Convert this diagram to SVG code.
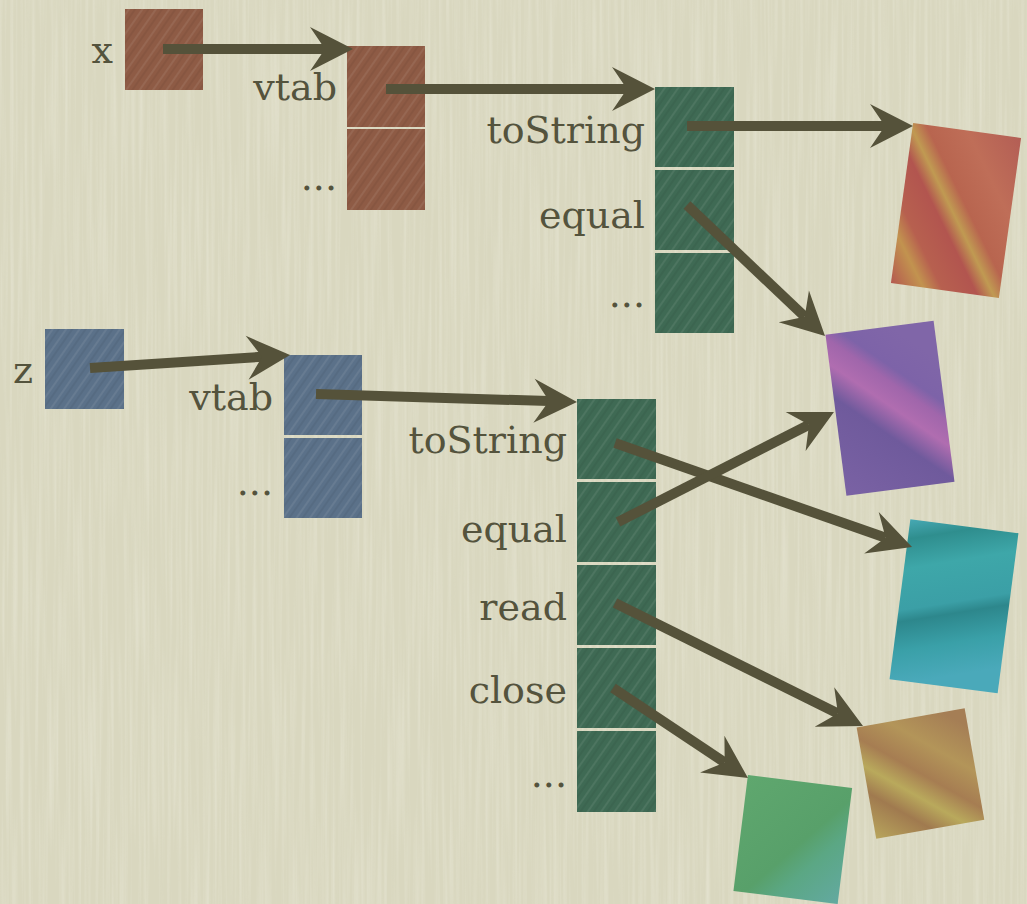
<svg xmlns="http://www.w3.org/2000/svg" width="1027" height="904" viewBox="0 0 1027 904">
  <defs>
    <style>
      .lbl { font-family: "DejaVu Serif", "Liberation Serif", serif; font-size: 38px; fill: #54533d; text-anchor: end; }
      .edge { stroke: #55523a; stroke-width: 10; fill: none; marker-end: url(#head); }
      .brown { fill: #8e5b45; }
      .green { fill: #3f6a54; }
      .blue { fill: #5b7189; }
      .streak { fill: url(#streaks); }
    </style>
    <!-- arrowhead: origin at the notch where the shaft ends -->
    <marker id="head" markerUnits="userSpaceOnUse" markerWidth="60" markerHeight="60" viewBox="-20 -30 60 60" refX="0" refY="0" orient="auto" overflow="visible">
      <path d="M28,0 L-15,-22 L0,0 L-15,22 Z" fill="#55523a"/>
    </marker>
    <!-- diagonal brush streaks laid over the cells -->
    <pattern id="streaks" width="11" height="11" patternUnits="userSpaceOnUse" patternTransform="rotate(-55)">
      <rect x="0" y="0" width="11" height="2" fill="#ffffff" opacity="0.07"/>
      <rect x="0" y="5" width="11" height="2" fill="#000000" opacity="0.05"/>
    </pattern>
    <!-- paper grain: vertical fibres -->
    <filter id="paper" x="0" y="0" width="100%" height="100%">
      <feTurbulence type="fractalNoise" baseFrequency="0.28 0.006" numOctaves="2" seed="4" result="n"/>
      <feColorMatrix in="n" type="matrix" values="0 0 0 0 1  0 0 0 0 1  0 0 0 0 0.95  0.9 0 0 0 -0.35" />
    </filter>
    <linearGradient id="gRed" x1="0" y1="1" x2="1" y2="0">
      <stop offset="0" stop-color="#b4594f"/>
      <stop offset="0.15" stop-color="#c2934f"/>
      <stop offset="0.24" stop-color="#b7604f"/>
      <stop offset="0.4" stop-color="#b2554f"/>
      <stop offset="0.48" stop-color="#c09a52"/>
      <stop offset="0.56" stop-color="#b8654f"/>
      <stop offset="0.75" stop-color="#bf6e58"/>
      <stop offset="1" stop-color="#b35e55"/>
    </linearGradient>
    <linearGradient id="gPurple" x1="0" y1="1" x2="0.6" y2="0">
      <stop offset="0" stop-color="#7a62a4"/>
      <stop offset="0.45" stop-color="#6f5a9c"/>
      <stop offset="0.6" stop-color="#b06db0"/>
      <stop offset="0.72" stop-color="#a066ab"/>
      <stop offset="0.8" stop-color="#7d63a8"/>
      <stop offset="1" stop-color="#8066a8"/>
    </linearGradient>
    <linearGradient id="gTeal" x1="0" y1="0" x2="0.2" y2="1">
      <stop offset="0" stop-color="#47a9b4"/>
      <stop offset="0.12" stop-color="#2f8e8e"/>
      <stop offset="0.3" stop-color="#3ea7a9"/>
      <stop offset="0.55" stop-color="#3b9fa6"/>
      <stop offset="0.62" stop-color="#2d878c"/>
      <stop offset="0.8" stop-color="#3aa0a8"/>
      <stop offset="1" stop-color="#4aa9ba"/>
    </linearGradient>
    <linearGradient id="gOlive" x1="0" y1="1" x2="0.8" y2="0">
      <stop offset="0" stop-color="#b8a55c"/>
      <stop offset="0.25" stop-color="#a07a4f"/>
      <stop offset="0.4" stop-color="#b9a95c"/>
      <stop offset="0.55" stop-color="#a67d52"/>
      <stop offset="0.75" stop-color="#b39559"/>
      <stop offset="1" stop-color="#a57e55"/>
    </linearGradient>
    <linearGradient id="gGreen" x1="0" y1="0" x2="1" y2="1">
      <stop offset="0" stop-color="#5fa76e"/>
      <stop offset="0.55" stop-color="#58a06a"/>
      <stop offset="0.7" stop-color="#5ba784"/>
      <stop offset="1" stop-color="#63a9a0"/>
    </linearGradient>
  </defs>

  <!-- paper background -->
  <rect x="0" y="0" width="1027" height="904" fill="#d9d7bf"/>
  <rect x="0" y="0" width="1027" height="904" filter="url(#paper)" opacity="0.5"/>

  <!-- object x -->
  <g id="node-x">
    <rect class="brown" x="125" y="9" width="78" height="81"/>
    <rect class="streak" x="125" y="9" width="78" height="81"/>
    <text class="lbl" x="113" y="63">x</text>
  </g>

  <!-- vtable pointer of x -->
  <g id="node-x-vtab">
    <rect class="brown" x="347" y="46" width="78" height="81"/>
    <rect class="brown" x="347" y="129" width="78" height="81"/>
    <rect class="streak" x="347" y="46" width="78" height="81"/>
    <rect class="streak" x="347" y="129" width="78" height="81"/>
    <text class="lbl" x="337" y="100">vtab</text>
    <text class="lbl" x="337" y="190">...</text>
  </g>

  <!-- method table of x -->
  <g id="node-x-table">
    <rect class="green" x="655" y="87" width="79" height="80"/>
    <rect class="green" x="655" y="170" width="79" height="80"/>
    <rect class="green" x="655" y="253" width="79" height="80"/>
    <rect class="streak" x="655" y="87" width="79" height="80"/>
    <rect class="streak" x="655" y="170" width="79" height="80"/>
    <rect class="streak" x="655" y="253" width="79" height="80"/>
    <text class="lbl" x="645" y="143">toString</text>
    <text class="lbl" x="645" y="228">equal</text>
    <text class="lbl" x="645" y="307">...</text>
  </g>

  <!-- object z -->
  <g id="node-z">
    <rect class="blue" x="45" y="329" width="79" height="80"/>
    <rect class="streak" x="45" y="329" width="79" height="80"/>
    <text class="lbl" x="33" y="383">z</text>
  </g>

  <!-- vtable pointer of z -->
  <g id="node-z-vtab">
    <rect class="blue" x="284" y="355" width="78" height="80"/>
    <rect class="blue" x="284" y="438" width="78" height="80"/>
    <rect class="streak" x="284" y="355" width="78" height="80"/>
    <rect class="streak" x="284" y="438" width="78" height="80"/>
    <text class="lbl" x="273" y="410">vtab</text>
    <text class="lbl" x="273" y="495">...</text>
  </g>

  <!-- method table of z -->
  <g id="node-z-table">
    <rect class="green" x="577" y="399" width="79" height="80"/>
    <rect class="green" x="577" y="482" width="79" height="80"/>
    <rect class="green" x="577" y="565" width="79" height="80"/>
    <rect class="green" x="577" y="648" width="79" height="80"/>
    <rect class="green" x="577" y="731" width="79" height="81"/>
    <rect class="streak" x="577" y="399" width="79" height="80"/>
    <rect class="streak" x="577" y="482" width="79" height="80"/>
    <rect class="streak" x="577" y="565" width="79" height="80"/>
    <rect class="streak" x="577" y="648" width="79" height="80"/>
    <rect class="streak" x="577" y="731" width="79" height="81"/>
    <text class="lbl" x="567" y="453">toString</text>
    <text class="lbl" x="567" y="542">equal</text>
    <text class="lbl" x="567" y="620">read</text>
    <text class="lbl" x="567" y="703">close</text>
    <text class="lbl" x="567" y="787">...</text>
  </g>

  <!-- method implementations -->
  <g id="impl-red">
    <rect x="901.5" y="129.75" width="109" height="161.5" fill="url(#gRed)" transform="rotate(7.9 956 210.5)"/>
  </g>
  <g id="impl-purple">
    <rect x="835.5" y="327" width="109" height="162.5" fill="url(#gPurple)" transform="rotate(-7.4 890 408.25)"/>
  </g>
  <g id="impl-teal">
    <rect x="899.5" y="525.5" width="109" height="161.5" fill="url(#gTeal)" transform="rotate(7.4 954 606.25)"/>
  </g>
  <g id="impl-olive">
    <rect x="865.6" y="717" width="109.7" height="113" fill="url(#gOlive)" transform="rotate(-10 920.5 773.5)"/>
  </g>
  <g id="impl-green">
    <rect x="740.3" y="781" width="105" height="117" fill="url(#gGreen)" transform="rotate(7.1 792.8 839.5)"/>
  </g>

  <!-- pointers -->
  <g id="connectors">
    <line class="edge" x1="163" y1="49" x2="325" y2="49"/>
    <line class="edge" x1="386" y1="89" x2="627" y2="89"/>
    <line class="edge" x1="687" y1="126" x2="885" y2="126"/>
    <line class="edge" x1="687" y1="205" x2="804.7" y2="316.7"/>
    <line class="edge" x1="90" y1="368" x2="262.1" y2="356.8"/>
    <line class="edge" x1="316" y1="394" x2="549" y2="401.1"/>
    <line class="edge" x1="615" y1="443" x2="885.6" y2="537.8"/>
    <line class="edge" x1="618" y1="522" x2="809" y2="424.7"/>
    <line class="edge" x1="615" y1="603" x2="837.9" y2="713.6"/>
    <line class="edge" x1="613" y1="688" x2="724.7" y2="762.5"/>
  </g>
</svg>
